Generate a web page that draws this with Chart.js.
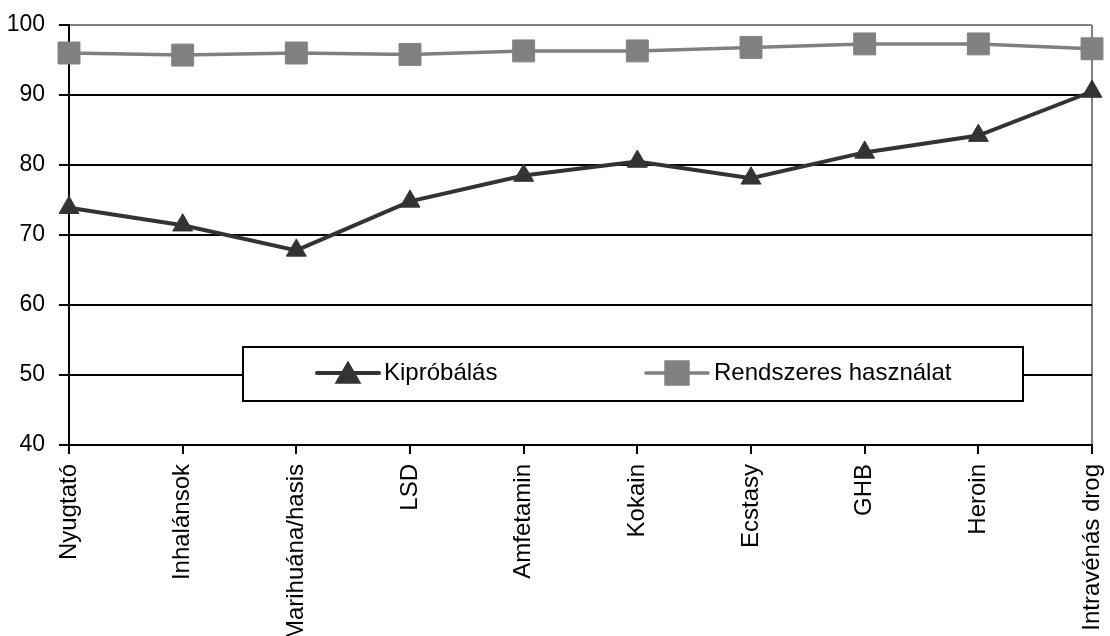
<!DOCTYPE html>
<html>
<head>
<meta charset="utf-8">
<script src="https://cdn.jsdelivr.net/npm/chart.js@4/dist/chart.umd.min.js"></script>
<style>
  html, body { margin: 0; padding: 0; background: #fff; }
  #wrap { width: 1110px; height: 636px; position: relative; }
</style>
</head>
<body>
<div id="wrap"><canvas id="chart" width="1110" height="636"></canvas></div>
<script>
// Drug categories along the x axis
const categories = ['Nyugtató', 'Inhalánsok', 'Marihuána/hasis', 'LSD', 'Amfetamin', 'Kokain', 'Ecstasy', 'GHB', 'Heroin', 'Intravénás drog'];
// Series values (%)
const kiprobalas = [73.9, 71.4, 67.8, 74.8, 78.5, 80.5, 78.1, 81.8, 84.2, 90.5];
const rendszeres = [96.0, 95.7, 96.0, 95.8, 96.3, 96.3, 96.8, 97.3, 97.3, 96.6];
const seriesNames = ['Kipróbálás', 'Rendszeres használat'];
// Value axis ticks
const yTicks = [40, 50, 60, 70, 80, 90, 100];

const FONT = "'Liberation Sans', Arial, Helvetica, sans-serif";

// Boxed legend drawn inside the plot area
const boxLegend = {
  id: 'boxLegend',
  afterDatasetsDraw(chart) {
    const ctx = chart.ctx;
    const bx = 243, by = 347, bw = 780, bh = 54;
    const cy = by + bh / 2 - 1;
    const sampleX = [317, 646];
    const textX = [384, 714];
    ctx.save();
    ctx.fillStyle = '#fff';
    ctx.fillRect(bx, by, bw, bh);
    ctx.strokeStyle = '#000';
    ctx.lineWidth = 2;
    ctx.strokeRect(bx, by, bw, bh);
    chart.data.datasets.forEach((ds, i) => {
      const lx = sampleX[i];
      ctx.strokeStyle = ds.borderColor;
      ctx.lineWidth = ds.borderWidth;
      ctx.lineCap = 'round';
      ctx.beginPath();
      ctx.moveTo(lx, cy);
      ctx.lineTo(lx + 62, cy);
      ctx.stroke();
      ctx.fillStyle = ds.pointBackgroundColor;
      ctx.strokeStyle = ds.pointBorderColor;
      Chart.helpers.drawPoint(ctx, { pointStyle: ds.pointStyle, radius: ds.pointRadius, borderWidth: 1, rotation: 0 }, lx + 31, cy + (ds.pointStyle === 'triangle' ? 3 : 0));
      ctx.fillStyle = '#000';
      ctx.font = '24px ' + FONT;
      ctx.textBaseline = 'middle';
      ctx.textAlign = 'left';
      ctx.fillText(ds.label, textX[i], cy);
    });
    ctx.restore();
  }
};

new Chart(document.getElementById('chart'), {
  type: 'line',
  data: {
    labels: categories,
    datasets: [
      {
        label: seriesNames[0],
        data: kiprobalas,
        borderColor: '#333333',
        backgroundColor: '#333333',
        borderWidth: 4,
        pointStyle: 'triangle',
        pointRadius: 11.5,
        pointHoverRadius: 11.5,
        pointBackgroundColor: '#333333',
        pointBorderColor: '#333333',
        pointBorderWidth: 1,
        tension: 0,
        order: 1
      },
      {
        label: seriesNames[1],
        data: rendszeres,
        borderColor: '#808080',
        backgroundColor: '#808080',
        borderWidth: 3.5,
        pointStyle: 'rect',
        pointRadius: 15.5,
        pointHoverRadius: 15.5,
        pointBackgroundColor: '#808080',
        pointBorderColor: '#808080',
        pointBorderWidth: 1,
        tension: 0,
        order: 2
      }
    ]
  },
  options: {
    responsive: false,
    animation: false,
    devicePixelRatio: 1,
    layout: { padding: { top: 25, right: 18, left: 0, bottom: 0 } },
    plugins: {
      legend: { display: false },
      tooltip: { enabled: false }
    },
    scales: {
      x: {
        type: 'category',
        offset: false,
        border: { display: true, color: '#000', width: 2 },
        grid: {
          display: true,
          drawOnChartArea: true,
          drawTicks: true,
          lineWidth: 2,
          tickLength: 9,
          tickColor: '#000',
          color: c => (c.index === categories.length - 1 ? '#808080' : 'rgba(0,0,0,0)')
        },
        ticks: {
          autoSkip: false,
          minRotation: 90,
          maxRotation: 90,
          padding: 10,
          color: '#000',
          font: { family: FONT, size: 24 }
        },
        afterFit(s) { s.height = 191; s.paddingLeft = 0; s.paddingRight = 0; }
      },
      y: {
        min: 40,
        max: 100,
        border: { display: true, color: '#000', width: 2 },
        grid: {
          lineWidth: 2,
          tickLength: 10,
          tickColor: '#000',
          color: c => (c.tick && c.tick.value === 100 ? '#808080' : '#000')
        },
        ticks: {
          padding: 14,
          color: '#000',
          font: { family: FONT, size: 23 }
        },
        afterBuildTicks(s) { s.ticks = yTicks.map(v => ({ value: v })); },
        afterFit(s) { s.width = 69; s.paddingTop = 0; s.paddingBottom = 0; }
      }
    }
  },
  plugins: [boxLegend]
});
</script>
</body>
</html>
